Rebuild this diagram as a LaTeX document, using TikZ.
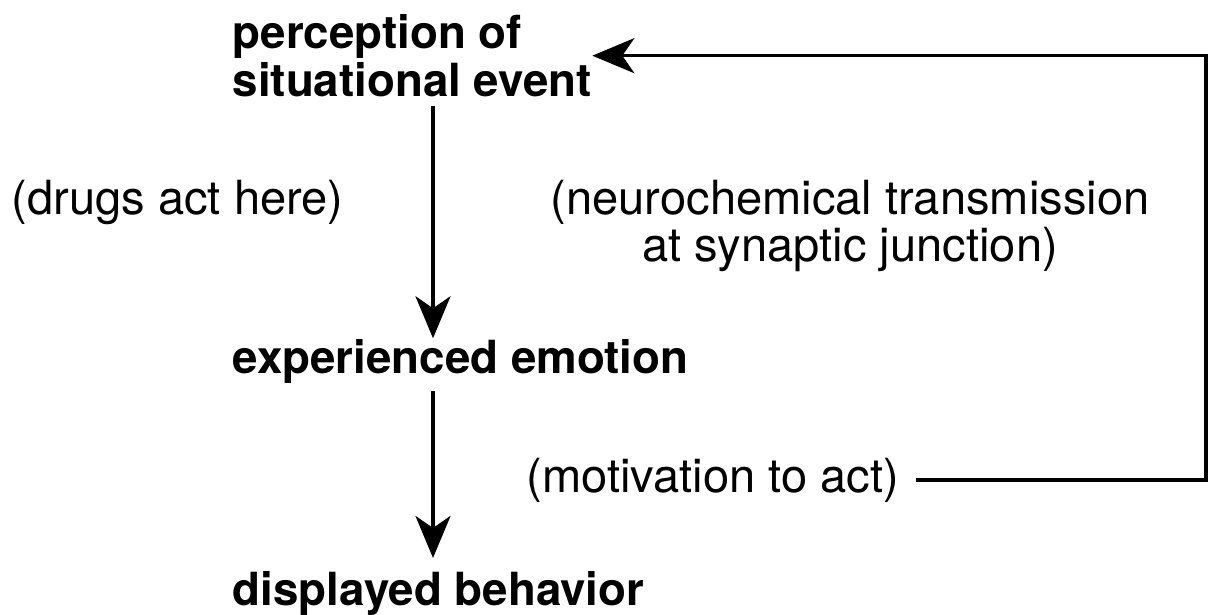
\documentclass[tikz,border=0pt]{standalone}
\usepackage{fontspec}
\setmainfont{TeX Gyre Heros}
\usetikzlibrary{arrows.meta,positioning}

\begin{document}
\begin{tikzpicture}[
    stage/.style={inner sep=0pt, align=left,
      font=\fontsize{13}{11.8}\selectfont\bfseries},
    note/.style={inner sep=0pt, align=center,
      font=\fontsize{13.4}{11.7}\selectfont},
    flow/.style={-{Stealth[length=4.2mm, width=3.5mm, inset=1.2mm]}, line width=1pt},
    feedback/.style={flow},
  ]

  \useasboundingbox (0,0) rectangle (12.09,6.14);

  % stages of the chain
  \node (perception) [stage, anchor=north west] at (2.32,6.00) {perception of\\situational event};
  \node (emotion)    [stage, anchor=base west]  at (2.32,2.41) {experienced emotion};
  \node (behavior)   [stage, anchor=base west]  at (2.32,0.09) {displayed behavior};

  % side remarks
  \node (drugs)   [note, anchor=base west] at (0.11,4.00) {(drugs act here)};
  \node (synapse) [note, anchor=north]     at (8.50,4.35) {(neurochemical transmission\\at synaptic junction)};
  \node (motive)  [note, anchor=base west] at (5.26,1.22) {(motivation to act)};

  \coordinate (axis) at (4.33,0);
  \coordinate (edge) at (12.06,0);

  % flow
  \draw[flow, shorten <=2.5pt] (perception.south -| axis) -- (emotion.north -| axis);
  \draw[flow, shorten <=2pt, shorten >=3.5pt] (emotion.south -| axis) -- (behavior.north -| axis);
  \draw[feedback, shorten <=4.5pt] (motive.east) -- (motive.east -| edge) |- (perception.east);

\end{tikzpicture}
\end{document}
